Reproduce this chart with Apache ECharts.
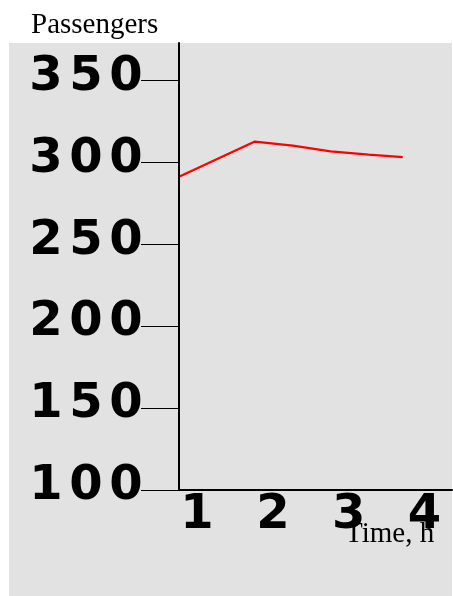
<!DOCTYPE html>
<html>
<head>
<meta charset="utf-8">
<script src="https://cdn.jsdelivr.net/npm/echarts@6/dist/echarts.min.js"></script>
<style>
  body { margin: 0; background: #fff; }
  #panel { position: absolute; left: 9px; top: 43px; width: 443px; height: 553px; background: #e2e2e2; }
  #chart { position: absolute; left: 0; top: 0; width: 453px; height: 596px; }
</style>
</head>
<body>
<div id="panel"></div>
<div id="chart"></div>
<script>
// time (h) and passenger count
const times = [1, 2, 2.5, 3, 3.5, 3.95];
const passengers = [291, 312.5, 310, 306.5, 304.5, 303];
const yTicks = [100, 150, 200, 250, 300, 350];
const xTicks = [1, 2, 3, 4];

const digitFont = "DejaVu Sans";
// one fixed-width box per digit, to get the wide spacing of the original
const spaced = (v) => String(v).split("").map((c) => "{d|" + c + "}").join("");
const digitStyle = (w) => ({
  d: {
    width: w,
    align: "center",
    fontSize: 48,
    fontWeight: "bold",
    fontFamily: digitFont,
    color: "#000",
  },
});
const serif = { fontFamily: "Liberation Serif", fontWeight: "normal", fontSize: 29, color: "#000" };

let chart = echarts.init(document.getElementById("chart"), null, { renderer: "canvas" });
let option = {
  animation: false,
  backgroundColor: "transparent",
  title: [
    { text: "Passengers", left: 31, top: 11, padding: 0, z: 0, textStyle: serif },
    { text: "Time, h", left: 345, top: 520, padding: 0, z: 0, textStyle: serif },
  ],
  grid: { left: 179, top: 43, right: 1, bottom: 106, containLabel: false },
  xAxis: {
    type: "value",
    min: 1,
    max: 4.6,
    z: 5,
    splitLine: { show: false },
    axisLine: { show: true, onZero: false, lineStyle: { color: "#000", width: 2 } },
    axisTick: { show: false },
    axisLabel: {
      customValues: xTicks,
      align: "left",
      margin: 2,
      formatter: spaced,
      rich: digitStyle(36),
    },
  },
  yAxis: {
    type: "value",
    min: 100,
    max: 372.6,
    z: 5,
    splitLine: { show: false },
    axisLine: { show: true, onZero: false, lineStyle: { color: "#000", width: 2 } },
    axisTick: { show: true, customValues: yTicks, length: 38, lineStyle: { color: "#000", width: 1 } },
    axisLabel: {
      customValues: yTicks,
      margin: 33,
      padding: [0, 0, 6, 0],
      formatter: spaced,
      rich: digitStyle(40),
    },
  },
  series: [
    {
      type: "line",
      showSymbol: false,
      symbol: "none",
      lineStyle: { color: "#ff0000", width: 2.2 },
      data: times.map((t, i) => [t, passengers[i]]),
    },
  ],
};
option && chart.setOption(option);
</script>
</body>
</html>
